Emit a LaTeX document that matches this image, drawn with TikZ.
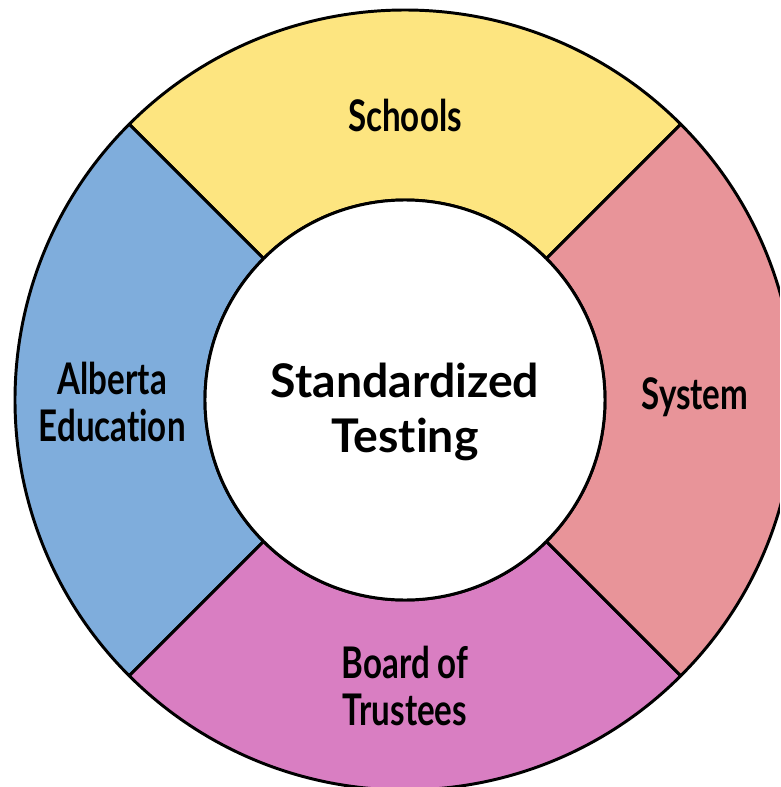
\documentclass[tikz,border=0pt]{standalone}
\usepackage{fontspec}
\setmainfont{Lato}[Ligatures=NoCommon]
\definecolor{schoolsyellow}{RGB}{253,229,128}
\definecolor{albertablue}{RGB}{127,173,220}
\definecolor{systempink}{RGB}{232,148,153}
\definecolor{boardorchid}{RGB}{217,126,194}
\tikzset{
  sector/.style={draw=black, line width=2.1pt, line join=round},
  ringlabel/.style={align=center, font=\bfseries\fontsize{31}{33}\selectfont},
  hublabel/.style={align=center, font=\bfseries\fontsize{33}{39}\selectfont}
}
\begin{document}
\begin{tikzpicture}
    \useasboundingbox (-10.125, -9.675) rectangle (9.375, 10);
    \clip (-10.125, -9.675) rectangle (9.375, 10);
    % ring of four sectors
    \foreach \a/\col in {45/schoolsyellow, 135/albertablue, 225/boardorchid, 315/systempink} {
        \filldraw[sector, fill=\col] (\a:9.75) arc[start angle=\a, end angle=\a+90, radius=9.75]
            -- (\a+90:5) arc[start angle=\a+90, end angle=\a, radius=5] -- cycle;
    }
    \node[circle, draw, line width=2.1pt, fill=white, minimum size=10cm, inner sep=0pt] (hub) at (0, 0) {};
    \node[hublabel] (testing) at (0, -0.3) {Standardized\\Testing};
    \node[ringlabel] (schools) at (0, 7.12) {\scalebox{0.76}[1]{Schools}};
    \node[ringlabel] (system) at (7.25, 0.08) {\scalebox{0.76}[1]{System}};
    \node[ringlabel] (alberta) at (-7.32, -0.05) {\scalebox{0.76}[1]{Alberta}\\\scalebox{0.76}[1]{Education}};
    \node[ringlabel] (board) at (0, -7.15) {\scalebox{0.76}[1]{Board of}\\\scalebox{0.76}[1]{Trustees}};
\end{tikzpicture}
\end{document}
